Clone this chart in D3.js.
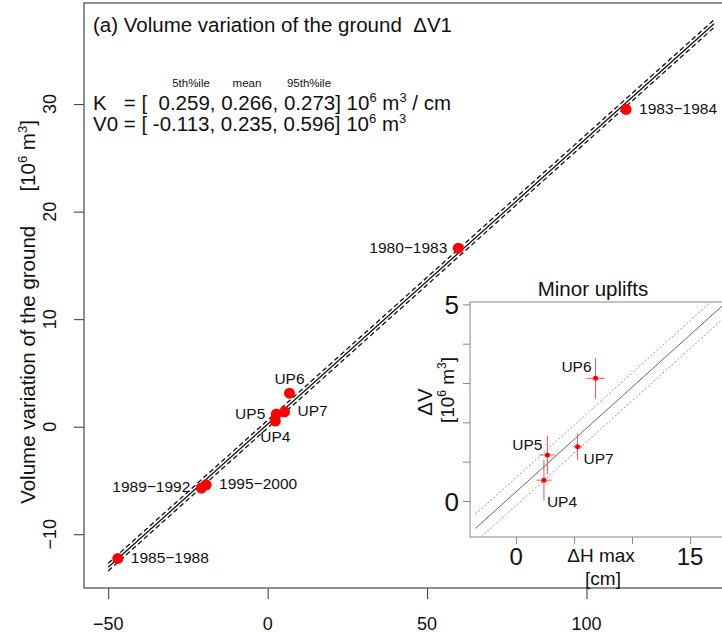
<!DOCTYPE html>
<html>
<head>
<meta charset="utf-8">
<script src="https://cdn.jsdelivr.net/npm/d3@7"></script>
<style>
  body { margin: 0; background: #fff; }
  text { font-family: "Liberation Sans", Arial, sans-serif; fill: #111; }
</style>
</head>
<body>
<svg id="chart" width="722" height="634"></svg>
<script>
// data
const periods = ["1985−1988", "1989−1992", "1995−2000", "UP4", "UP5", "UP7", "UP6", "1980−1983", "1983−1984"];
const dH = [-47.0, -20.8, -19.3, 2.4, 2.7, 5.3, 6.85, 59.8, 112.4];
const dV = [-12.25, -5.7, -5.4, 0.53, 1.17, 1.38, 3.12, 16.6, 29.5];
const labelSide = ["right", "left", "right", "below", "left", "right", "above", "left", "right"];

const upNames = ["UP4", "UP5", "UP7", "UP6"];
const upErrH = [0.65, 0.68, 0.39, 0.78];
const upErrV = [0.52, 0.49, 0.33, 0.52];

const K = [0.259, 0.266, 0.273];
const V0 = [-0.113, 0.235, 0.596];
const pctLabels = ["5th%ile", "mean", "95th%ile"];

const xTicks = [-50, 0, 50, 100];
const yTicks = [-10, 0, 10, 20, 30];
const insetXTicks = [0, 5, 10, 15];
const insetXLabels = [0, 15];
const insetYTicks = [0, 1, 2, 3, 4, 5];
const insetYLabels = [0, 5];

const svg = d3.select("#chart");
const FONT = 20.5;

/**
 * main panel
 */
let xScale = d3.scaleLinear().domain([-57.6, 145]).range([84, 730]);
let yScale = d3.scaleLinear().domain([-15, 39.4]).range([588, 3]);

svg.append("g")
  .attr("transform", "translate(0,588)")
  .call(d3.axisBottom(xScale).tickValues(xTicks).tickSize(11).tickSizeOuter(0).tickFormat(""))
  .call((g) => g.select(".domain").remove())
  .call((g) => g.selectAll("line").attr("stroke", "#333"));

svg.append("g")
  .selectAll("text")
  .data(xTicks)
  .enter()
  .append("text")
  .attr("x", (d) => xScale(d))
  .attr("y", 630)
  .attr("text-anchor", "middle")
  .attr("font-size", 18)
  .text((d) => d3.format("")(d));

svg.append("g")
  .attr("transform", "translate(84,0)")
  .call(d3.axisLeft(yScale).tickValues(yTicks).tickSize(10).tickSizeOuter(0).tickFormat(""))
  .call((g) => g.select(".domain").remove())
  .call((g) => g.selectAll("line").attr("stroke", "#333"));

svg.append("g")
  .selectAll("text")
  .data(yTicks)
  .enter()
  .append("text")
  .attr("transform", (d) => "translate(56," + yScale(d) + ") rotate(-90)")
  .attr("text-anchor", "middle")
  .attr("font-size", 18)
  .text((d) => d3.format("")(d));

svg.append("rect")
  .attr("x", 84).attr("y", 3)
  .attr("width", 700).attr("height", 585)
  .attr("fill", "none")
  .attr("stroke", "#555")
  .attr("stroke-width", 1.3);

// y axis title
let yTitle = svg.append("text")
  .attr("transform", "translate(35,312) rotate(-90)")
  .attr("text-anchor", "middle")
  .attr("font-size", FONT)
  .style("white-space", "pre");
yTitle.append("tspan").text("Volume variation of the ground      [10");
yTitle.append("tspan").attr("font-size", 13).attr("dy", -8).text("6");
yTitle.append("tspan").attr("dy", 8).text(" m");
yTitle.append("tspan").attr("font-size", 13).attr("dy", -8).text("3");
yTitle.append("tspan").attr("dy", 8).text("]");

// fit lines: mean slope with V0 5th / mean / 95th
const fitX = [-50, 140];
const fitLines = [
  { k: K[1], v: V0[0], dash: "5,3" },
  { k: K[1], v: V0[1], dash: null },
  { k: K[1], v: V0[2], dash: "5,3" },
];
let mainLine = d3.line().x((d) => xScale(d[0])).y((d) => yScale(d[1]));
svg.append("g")
  .selectAll("path")
  .data(fitLines)
  .enter()
  .append("path")
  .attr("d", (f) => mainLine(fitX.map((x) => [x, f.k * x + f.v])))
  .attr("fill", "none")
  .attr("stroke", "#111")
  .attr("stroke-width", 1.3)
  .attr("stroke-dasharray", (f) => f.dash);

svg.append("g")
  .selectAll("circle")
  .data(periods)
  .enter()
  .append("circle")
  .attr("cx", (d, i) => xScale(dH[i]))
  .attr("cy", (d, i) => yScale(dV[i]))
  .attr("r", 5.5)
  .attr("fill", "#ff0000");

svg.append("g")
  .selectAll("text")
  .data(periods)
  .enter()
  .append("text")
  .attr("font-size", 15.5)
  .attr("x", (d, i) => {
    let x = xScale(dH[i]);
    if (labelSide[i] == "right") return x + 13;
    if (labelSide[i] == "left") return x - 11;
    return x;
  })
  .attr("y", (d, i) => {
    let y = yScale(dV[i]);
    if (labelSide[i] == "above") return y - 9;
    if (labelSide[i] == "below") return y + 21;
    return y + 4.5;
  })
  .attr("text-anchor", (d, i) =>
    labelSide[i] == "right" ? "start" : labelSide[i] == "left" ? "end" : "middle"
  )
  .text((d) => d);

// title and parameter text
svg.append("text")
  .attr("x", 93).attr("y", 32)
  .attr("font-size", FONT)
  .style("white-space", "pre")
  .text("(a) Volume variation of the ground  ΔV1");

const pctX = [191, 247, 309];
svg.append("g")
  .selectAll("text")
  .data(pctLabels)
  .enter()
  .append("text")
  .attr("x", (d, i) => pctX[i])
  .attr("y", 87)
  .attr("text-anchor", "middle")
  .attr("font-size", 11.5)
  .text((d) => d);

function paramLine(y, head, vals, unitTail) {
  let t = svg.append("text")
    .attr("x", 93).attr("y", y)
    .attr("font-size", FONT)
    .style("white-space", "pre");
  t.append("tspan").text(head + vals.map((v) => v.toFixed(3)).join(", ") + "] 10");
  t.append("tspan").attr("font-size", 13).attr("dy", -8).text("6");
  t.append("tspan").attr("dy", 8).text(" m");
  t.append("tspan").attr("font-size", 13).attr("dy", -8).text("3");
  t.append("tspan").attr("dy", 8).text(unitTail);
}
paramLine(110, "K   = [  ", K, " / cm");
paramLine(131, "V0 = [ ", V0, "");

/**
 * inset: minor uplifts
 */
let ix = d3.scaleLinear().domain([-3.97, 19.3]).range([470, 740]);
let iy = d3.scaleLinear().domain([-0.915, 5.06]).range([537, 302]);

let inset = svg.append("g");
inset.append("rect")
  .attr("x", 470).attr("y", 302)
  .attr("width", 270).attr("height", 235)
  .attr("fill", "#fff")
  .attr("stroke", "#888")
  .attr("stroke-width", 1);

inset.append("clipPath").attr("id", "inset-clip")
  .append("rect").attr("x", 470).attr("y", 302).attr("width", 270).attr("height", 235);

inset.append("g")
  .attr("transform", "translate(0,537)")
  .call(d3.axisBottom(ix).tickValues(insetXTicks).tickSize(7).tickSizeOuter(0).tickFormat(""))
  .call((g) => g.select(".domain").remove())
  .call((g) => g.selectAll("line").attr("stroke", "#888"));

inset.append("g")
  .attr("transform", "translate(470,0)")
  .call(d3.axisLeft(iy).tickValues(insetYTicks).tickSize(7).tickSizeOuter(0).tickFormat(""))
  .call((g) => g.select(".domain").remove())
  .call((g) => g.selectAll("line").attr("stroke", "#888"));

inset.append("g")
  .selectAll("text")
  .data(insetXLabels)
  .enter()
  .append("text")
  .attr("x", (d) => ix(d))
  .attr("y", 565)
  .attr("text-anchor", "middle")
  .attr("font-size", 24)
  .text((d) => d);

inset.append("g")
  .selectAll("text")
  .data(insetYLabels)
  .enter()
  .append("text")
  .attr("x", 459)
  .attr("y", (d) => iy(d) + 9.5)
  .attr("text-anchor", "end")
  .attr("font-size", 26)
  .text((d) => d);

inset.append("text")
  .attr("x", 601).attr("y", 562)
  .attr("text-anchor", "middle")
  .attr("font-size", 19)
  .text("ΔH max");
inset.append("text")
  .attr("x", 603).attr("y", 585)
  .attr("text-anchor", "middle")
  .attr("font-size", 19)
  .text("[cm]");

inset.append("text")
  .attr("transform", "translate(432,402) rotate(-90)")
  .attr("text-anchor", "middle")
  .attr("font-size", FONT)
  .text("ΔV");
let iyt = inset.append("text")
  .attr("transform", "translate(454,390) rotate(-90)")
  .attr("text-anchor", "middle")
  .attr("font-size", 19);
iyt.append("tspan").text("[10");
iyt.append("tspan").attr("font-size", 12).attr("dy", -8).text("6");
iyt.append("tspan").attr("dy", 8).text(" m");
iyt.append("tspan").attr("font-size", 12).attr("dy", -8).text("3");
iyt.append("tspan").attr("dy", 8).text("]");

inset.append("text")
  .attr("x", 593).attr("y", 296)
  .attr("text-anchor", "middle")
  .attr("font-size", FONT)
  .text("Minor uplifts");

const insetFitX = [-3.5, 18];
let insetLine = d3.line().x((d) => ix(d[0])).y((d) => iy(d[1]));
inset.append("g")
  .attr("clip-path", "url(#inset-clip)")
  .selectAll("path")
  .data(fitLines)
  .enter()
  .append("path")
  .attr("d", (f) => insetLine(insetFitX.map((x) => [x, f.k * x + f.v])))
  .attr("fill", "none")
  .attr("stroke", (f) => (f.dash ? "#999" : "#666"))
  .attr("stroke-width", 1)
  .attr("stroke-dasharray", (f) => (f.dash ? "2,2" : null));

let upIdx = upNames.map((n) => periods.indexOf(n));
let errs = inset.append("g").attr("stroke", "#ff5050").attr("stroke-width", 1);
errs.selectAll("line.h")
  .data(upIdx)
  .enter()
  .append("line")
  .attr("class", "h")
  .attr("x1", (d, i) => ix(dH[d] - upErrH[i]))
  .attr("x2", (d, i) => ix(dH[d] + upErrH[i]))
  .attr("y1", (d) => iy(dV[d]))
  .attr("y2", (d) => iy(dV[d]));
errs.selectAll("line.v")
  .data(upIdx)
  .enter()
  .append("line")
  .attr("class", "v")
  .attr("x1", (d) => ix(dH[d]))
  .attr("x2", (d) => ix(dH[d]))
  .attr("y1", (d, i) => iy(dV[d] - upErrV[i]))
  .attr("y2", (d, i) => iy(dV[d] + upErrV[i]));

inset.append("g")
  .selectAll("circle")
  .data(upIdx)
  .enter()
  .append("circle")
  .attr("cx", (d) => ix(dH[d]))
  .attr("cy", (d) => iy(dV[d]))
  .attr("r", 2.5)
  .attr("fill", "#ff0000");

// inset labels: UP4 below-right, UP5 left, UP7 right-below, UP6 left-above
const insetLabelDx = [3, -5, 6, -4];
const insetLabelDy = [27, -5, 17, -6];
const insetLabelAnchor = ["start", "end", "start", "end"];
inset.append("g")
  .selectAll("text")
  .data(upIdx)
  .enter()
  .append("text")
  .attr("x", (d, i) => ix(dH[d]) + insetLabelDx[i])
  .attr("y", (d, i) => iy(dV[d]) + insetLabelDy[i])
  .attr("text-anchor", (d, i) => insetLabelAnchor[i])
  .attr("font-size", 15.5)
  .text((d) => periods[d]);
</script>
</body>
</html>
